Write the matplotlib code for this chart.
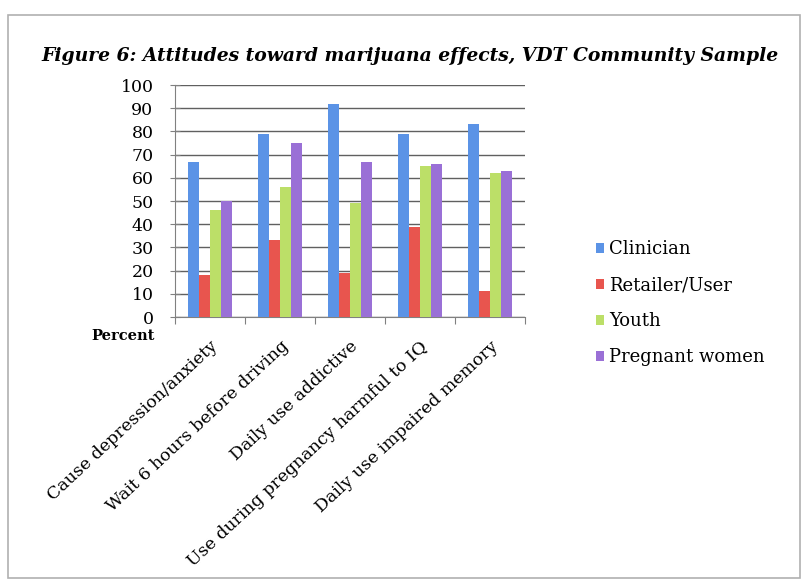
import numpy as np
import matplotlib.pyplot as plt
from matplotlib.patches import Rectangle

categories = ['Cause depression/anxiety', 'Wait 6 hours before driving',
              'Daily use addictive', 'Use during pregnancy harmful to IQ',
              'Daily use impaired memory']
groups = ['Clinician', 'Retailer/User', 'Youth', 'Pregnant women']
clinician = [67, 79, 92, 79, 83]
retailer = [18, 33, 19, 39, 11]
youth = [46, 56, 49, 65, 62]
pregnant = [50, 75, 67, 66, 63]
colors = ['#5b93e6', '#e8554e', '#bcdf68', '#9a70d6']

plt.rcParams['font.family'] = ['DejaVu Serif']

fig = plt.figure(figsize=(8.09, 5.86), dpi=100)
fig.patch.set_facecolor('white')

# outer chart frame
fig.add_artist(Rectangle((8 / 809, 1 - 578 / 586), 792 / 809, 563 / 586,
                         transform=fig.transFigure, fill=False,
                         edgecolor='#b0b0b0', linewidth=1.2))

ax = fig.add_axes([175 / 809, 1 - 317 / 586, 350 / 809, 232 / 586])

x = np.arange(len(categories))
w = 0.16
series = [clinician, retailer, youth, pregnant]
for i, (vals, name, c) in enumerate(zip(series, groups, colors)):
    ax.bar(x + (i - 1.5) * w, vals, width=w, color=c, label=name, zorder=3)

ax.set_xlim(-0.5, len(categories) - 0.5)
ax.set_ylim(0, 100)
ax.set_yticks(range(0, 101, 10))
ax.tick_params(axis='y', labelsize=12.5, length=7, direction='inout',
               color='#808080', pad=12)
ax.grid(axis='y', color='#606060', linewidth=1.0, zorder=0)

ax.set_xticks(np.arange(-0.5, len(categories), 1), minor=False)
ax.set_xticklabels([])
ax.set_xticks(x, minor=True)
ax.set_xticklabels(categories, minor=True, rotation=43, ha='right',
                   rotation_mode='anchor', fontsize=12.5)
ax.tick_params(axis='x', which='major', length=5, color='#808080')
ax.tick_params(axis='x', which='minor', length=0, pad=15)

for side in ['top', 'right']:
    ax.spines[side].set_visible(False)
ax.spines['left'].set_color('#808080')
ax.spines['bottom'].set_color('#808080')

fig.text(155 / 809, 1 - 336 / 586, 'Percent', fontsize=10.5, fontweight='bold',
         ha='right', va='center')

fig.text(410 / 809, 1 - 56 / 586,
         'Figure 6: Attitudes toward marijuana effects, VDT Community Sample',
         fontsize=13.5, fontweight='bold', fontstyle='italic',
         ha='center', va='center')

ax.legend(loc='upper left', bbox_to_anchor=(580 / 809, 1 - 224 / 586),
          bbox_transform=fig.transFigure, frameon=False, fontsize=13,
          handlelength=0.45, handleheight=0.45, handletextpad=0.25,
          labelspacing=1.0)

fig.savefig('out.png', dpi=100)
